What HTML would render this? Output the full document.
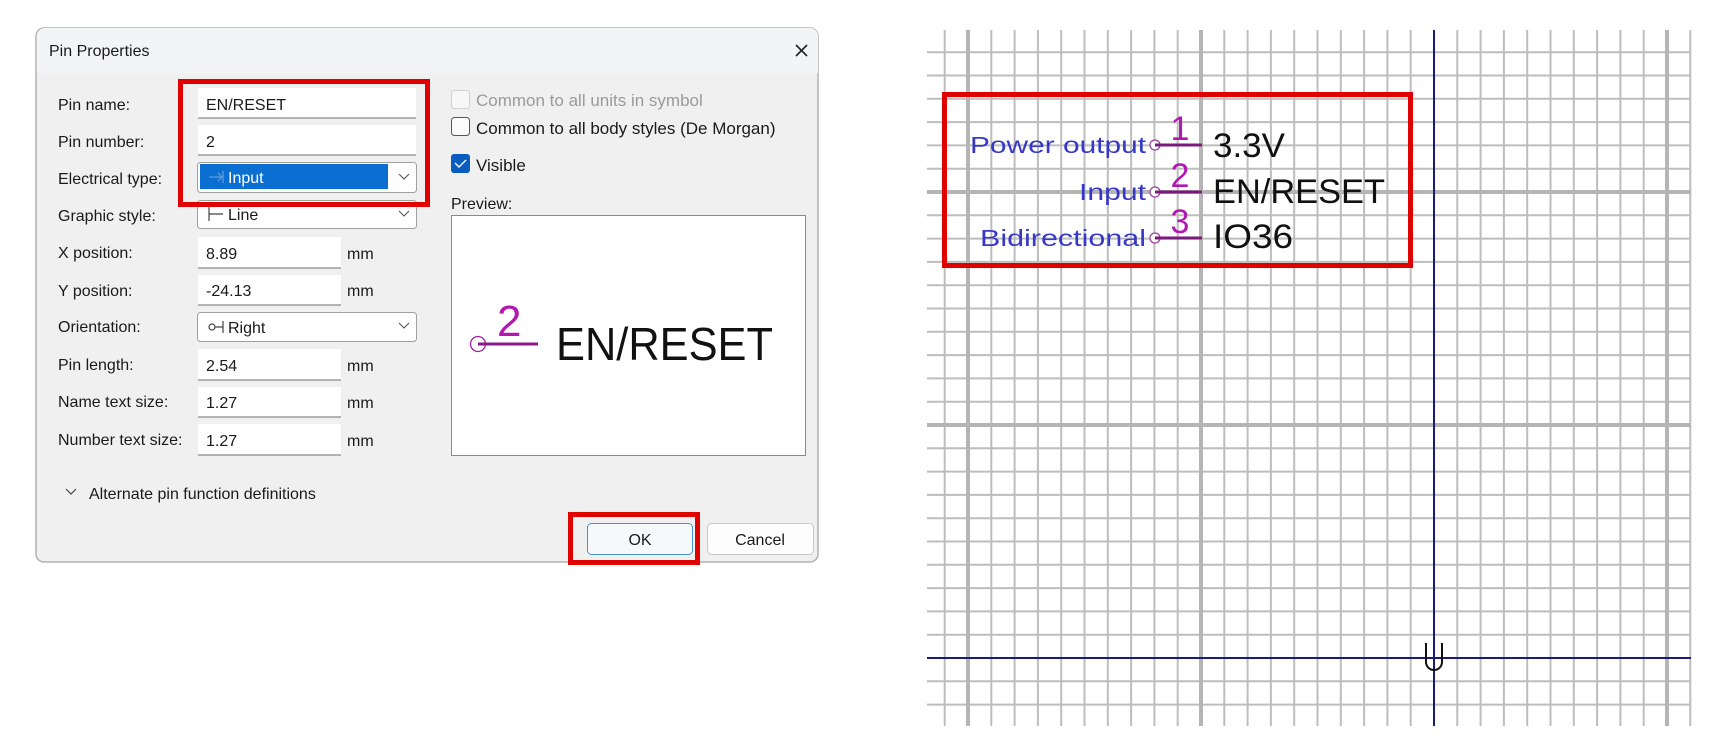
<!DOCTYPE html>
<html><head><meta charset="utf-8"><style>
html,body{margin:0;padding:0;background:#fff;width:1719px;height:754px;overflow:hidden}
svg{display:block}
text{font-family:"Liberation Sans",sans-serif}
</style></head><body>
<svg width="1719" height="754" viewBox="0 0 1719 754" xmlns="http://www.w3.org/2000/svg">
<!-- Dialog -->
<rect x="36" y="28" width="782" height="534" rx="8" fill="#f0f0f0" stroke="#b0b0b0" stroke-width="1.5"/>
<path d="M36.75 73 V36 a8 8 0 0 1 8 -8 H810 a8 8 0 0 1 8 8 V73 Z" fill="#f3f4f6"/>
<text x="49" y="56" font-size="16" fill="#1a1a1a">Pin Properties</text>
<path d="M796 45 l11 11 M807 45 l-11 11" stroke="#222" stroke-width="1.6"/>

<g font-size="16" fill="#1a1a1a">
<text x="58" y="110">Pin name:</text>
<text x="58" y="147">Pin number:</text>
<text x="58" y="184">Electrical type:</text>
<text x="58" y="221">Graphic style:</text>
<text x="58" y="258">X position:</text>
<text x="58" y="296">Y position:</text>
<text x="58" y="332">Orientation:</text>
<text x="58" y="370">Pin length:</text>
<text x="58" y="407">Name text size:</text>
<text x="58" y="445">Number text size:</text>
</g>
<!-- text fields -->
<g fill="#fff">
<rect x="198" y="88" width="218" height="30"/>
<rect x="198" y="125" width="218" height="30"/>
<rect x="198" y="237" width="143" height="31"/>
<rect x="198" y="275" width="143" height="30"/>
<rect x="198" y="349" width="143" height="31"/>
<rect x="198" y="387" width="143" height="30"/>
<rect x="198" y="424" width="143" height="31"/>
</g>
<g stroke="#8a8a8a" stroke-width="1.2">
<line x1="198" y1="118" x2="416" y2="118"/><line x1="198" y1="155" x2="416" y2="155"/>
<line x1="198" y1="268" x2="341" y2="268"/><line x1="198" y1="305" x2="341" y2="305"/>
<line x1="198" y1="380" x2="341" y2="380"/><line x1="198" y1="417" x2="341" y2="417"/>
<line x1="198" y1="455" x2="341" y2="455"/>
</g>
<!-- combos -->
<rect x="197.5" y="162.5" width="219" height="30" rx="3" fill="#fff" stroke="#a0a0a0"/>
<rect x="200" y="164" width="188" height="25" fill="#0a6fd0"/>
<rect x="197.5" y="200.5" width="219" height="28" rx="3" fill="#fff" stroke="#a0a0a0"/>
<rect x="197.5" y="312.5" width="219" height="29" rx="3" fill="#fff" stroke="#a0a0a0"/>
<g stroke="#555" stroke-width="1.1" fill="none">
<path d="M399 174 l5 5 l5 -5"/><path d="M399 211 l5 5 l5 -5"/><path d="M399 323 l5 5 l5 -5"/>
</g>
<path d="M209 177 h13 M218 173 l4 4 l-4 4 M223 171 v12" stroke="#5a9de0" stroke-width="1.3" fill="none"/>
<path d="M209 207 v14 M209 214 h14" stroke="#444" stroke-width="1.2" fill="none"/>
<circle cx="212" cy="327" r="3" fill="none" stroke="#444" stroke-width="1.2"/>
<path d="M215 327 h8 M223 321 v12" stroke="#444" stroke-width="1.2"/>
<g font-size="16" fill="#1a1a1a">
<text x="206" y="110">EN/RESET</text>
<text x="206" y="147">2</text>
<text x="228" y="183" fill="#fff">Input</text>
<text x="228" y="220">Line</text>
<text x="206" y="259">8.89</text>
<text x="206" y="296">-24.13</text>
<text x="228" y="333">Right</text>
<text x="206" y="371">2.54</text>
<text x="206" y="408">1.27</text>
<text x="206" y="446">1.27</text>
<text x="347" y="259">mm</text><text x="347" y="296">mm</text>
<text x="347" y="371">mm</text><text x="347" y="408">mm</text><text x="347" y="446">mm</text>
</g>
<path d="M66 489 l5 5 l5 -5" stroke="#444" stroke-width="1.2" fill="none"/>
<text x="89" y="499" font-size="16" fill="#1a1a1a">Alternate pin function definitions</text>

<!-- checkboxes -->
<rect x="451.5" y="90.5" width="18" height="18" rx="3" fill="#f7f7f7" stroke="#d0d0d0"/>
<text x="476" y="106" font-size="17" fill="#9a9a9a">Common to all units in symbol</text>
<rect x="451.5" y="117.5" width="18" height="18" rx="3" fill="#fbfbfb" stroke="#555"/>
<text x="476" y="134" font-size="17" fill="#1a1a1a">Common to all body styles (De Morgan)</text>
<rect x="451" y="154" width="19" height="19" rx="3" fill="#0a5cbf"/>
<path d="M455 163 l4 4 l7 -7" stroke="#fff" stroke-width="1.4" fill="none"/>
<text x="476" y="171" font-size="17" fill="#1a1a1a">Visible</text>
<text x="451" y="209" font-size="16" fill="#1a1a1a">Preview:</text>
<rect x="451.5" y="215.5" width="354" height="240" fill="#fff" stroke="#8a8a8a"/>
<circle cx="478" cy="344" r="7.5" fill="none" stroke="#a020a0" stroke-width="1.3"/>
<line x1="478" y1="344" x2="538" y2="344" stroke="#8a1a8a" stroke-width="3"/>
<text x="497" y="336" font-size="44" fill="#b018b0" font-family="DejaVu Sans,sans-serif">2</text>
<text x="556" y="360" font-size="46" fill="#111" font-family="DejaVu Sans,sans-serif" textLength="217" lengthAdjust="spacingAndGlyphs" font-weight="300">EN/RESET</text>

<!-- buttons -->
<rect x="587.5" y="523.5" width="105" height="31" rx="4" fill="#f6f9fc" stroke="#4a90d0"/>
<text x="640" y="545" font-size="16" text-anchor="middle" fill="#1a1a1a">OK</text>
<rect x="707.5" y="523.5" width="106" height="31" rx="4" fill="#fdfdfd" stroke="#c8c8c8"/>
<text x="760" y="545" font-size="16" text-anchor="middle" fill="#1a1a1a">Cancel</text>

<!-- red boxes left -->
<rect x="180.5" y="81.5" width="247" height="123" fill="none" stroke="#e00000" stroke-width="5"/>
<rect x="570.5" y="514.5" width="127" height="48" fill="none" stroke="#e00000" stroke-width="5"/>

<!-- Grid -->
<g id="grid">
<g stroke="#bdbdbd" stroke-width="2">
<line x1="944.7" y1="30" x2="944.7" y2="726"/>
<line x1="991.3" y1="30" x2="991.3" y2="726"/><line x1="1014.6" y1="30" x2="1014.6" y2="726"/>
<line x1="1037.9" y1="30" x2="1037.9" y2="726"/><line x1="1061.2" y1="30" x2="1061.2" y2="726"/>
<line x1="1084.5" y1="30" x2="1084.5" y2="726"/><line x1="1107.8" y1="30" x2="1107.8" y2="726"/>
<line x1="1131.1" y1="30" x2="1131.1" y2="726"/><line x1="1154.4" y1="30" x2="1154.4" y2="726"/>
<line x1="1177.7" y1="30" x2="1177.7" y2="726"/>
<line x1="1224.3" y1="30" x2="1224.3" y2="726"/><line x1="1247.6" y1="30" x2="1247.6" y2="726"/>
<line x1="1270.9" y1="30" x2="1270.9" y2="726"/><line x1="1294.2" y1="30" x2="1294.2" y2="726"/>
<line x1="1317.5" y1="30" x2="1317.5" y2="726"/><line x1="1340.8" y1="30" x2="1340.8" y2="726"/>
<line x1="1364.1" y1="30" x2="1364.1" y2="726"/><line x1="1387.4" y1="30" x2="1387.4" y2="726"/>
<line x1="1410.7" y1="30" x2="1410.7" y2="726"/>
<line x1="1457.3" y1="30" x2="1457.3" y2="726"/><line x1="1480.6" y1="30" x2="1480.6" y2="726"/>
<line x1="1503.9" y1="30" x2="1503.9" y2="726"/><line x1="1527.2" y1="30" x2="1527.2" y2="726"/>
<line x1="1550.5" y1="30" x2="1550.5" y2="726"/><line x1="1573.8" y1="30" x2="1573.8" y2="726"/>
<line x1="1597.1" y1="30" x2="1597.1" y2="726"/><line x1="1620.4" y1="30" x2="1620.4" y2="726"/>
<line x1="1643.7" y1="30" x2="1643.7" y2="726"/><line x1="1690.3" y1="30" x2="1690.3" y2="726"/>
<line x1="927" y1="52.2" x2="1691" y2="52.2"/><line x1="927" y1="75.5" x2="1691" y2="75.5"/>
<line x1="927" y1="98.8" x2="1691" y2="98.8"/><line x1="927" y1="122.1" x2="1691" y2="122.1"/>
<line x1="927" y1="145.4" x2="1691" y2="145.4"/><line x1="927" y1="168.7" x2="1691" y2="168.7"/>
<line x1="927" y1="215.3" x2="1691" y2="215.3"/><line x1="927" y1="238.6" x2="1691" y2="238.6"/>
<line x1="927" y1="261.9" x2="1691" y2="261.9"/><line x1="927" y1="285.2" x2="1691" y2="285.2"/>
<line x1="927" y1="308.5" x2="1691" y2="308.5"/><line x1="927" y1="331.8" x2="1691" y2="331.8"/>
<line x1="927" y1="355.1" x2="1691" y2="355.1"/><line x1="927" y1="378.4" x2="1691" y2="378.4"/>
<line x1="927" y1="401.7" x2="1691" y2="401.7"/>
<line x1="927" y1="448.3" x2="1691" y2="448.3"/><line x1="927" y1="471.6" x2="1691" y2="471.6"/>
<line x1="927" y1="494.9" x2="1691" y2="494.9"/><line x1="927" y1="518.2" x2="1691" y2="518.2"/>
<line x1="927" y1="541.5" x2="1691" y2="541.5"/><line x1="927" y1="564.8" x2="1691" y2="564.8"/>
<line x1="927" y1="588.1" x2="1691" y2="588.1"/><line x1="927" y1="611.4" x2="1691" y2="611.4"/>
<line x1="927" y1="634.7" x2="1691" y2="634.7"/><line x1="927" y1="681.3" x2="1691" y2="681.3"/>
<line x1="927" y1="704.6" x2="1691" y2="704.6"/>
</g>
<g stroke="#b5b5b5" stroke-width="4">
<line x1="968" y1="30" x2="968" y2="726"/><line x1="1201" y1="30" x2="1201" y2="726"/>
<line x1="1667" y1="30" x2="1667" y2="726"/>
<line x1="927" y1="192" x2="1691" y2="192"/><line x1="927" y1="425" x2="1691" y2="425"/>
</g>
<g stroke="#1a1a7a" stroke-width="2">
<line x1="1434" y1="30" x2="1434" y2="726"/>
<line x1="927" y1="658" x2="1691" y2="658"/>
</g>
<path d="M1426 643 V662 a8 8 0 0 0 16 0 V643" fill="none" stroke="#111" stroke-width="2"/>
</g>

<!-- Pins -->
<g fill="#fff" stroke="#a040a0" stroke-width="1.3">
<circle cx="1155" cy="145" r="5"/><circle cx="1155" cy="192" r="5"/><circle cx="1155" cy="238" r="5"/>
</g>
<g stroke="#7a1a7a" stroke-width="3">
<line x1="1155" y1="145" x2="1202" y2="145"/><line x1="1155" y1="192" x2="1202" y2="192"/>
<line x1="1155" y1="238" x2="1202" y2="238"/>
</g>
<g font-family="DejaVu Sans,sans-serif" font-size="34" fill="#b018b0" text-anchor="middle">
<text x="1180" y="140">1</text><text x="1180" y="187">2</text><text x="1180" y="233">3</text>
</g>
<g font-family="DejaVu Sans,sans-serif" font-size="34" fill="#111">
<text x="1213" y="157" textLength="72" lengthAdjust="spacingAndGlyphs">3.3V</text>
<text x="1213" y="203" textLength="172" lengthAdjust="spacingAndGlyphs">EN/RESET</text>
<text x="1213" y="248" textLength="80" lengthAdjust="spacingAndGlyphs">IO36</text>
</g>
<g font-family="DejaVu Sans,sans-serif" font-size="23" fill="#3838c8" text-anchor="end">
<text x="1146" y="153" textLength="176" lengthAdjust="spacingAndGlyphs">Power output</text>
<text x="1146" y="200" textLength="67" lengthAdjust="spacingAndGlyphs">Input</text>
<text x="1146" y="246" textLength="166" lengthAdjust="spacingAndGlyphs">Bidirectional</text>
</g>
<rect x="944.5" y="94.5" width="466" height="171" fill="none" stroke="#e00000" stroke-width="5"/>
</svg>
</body></html>
